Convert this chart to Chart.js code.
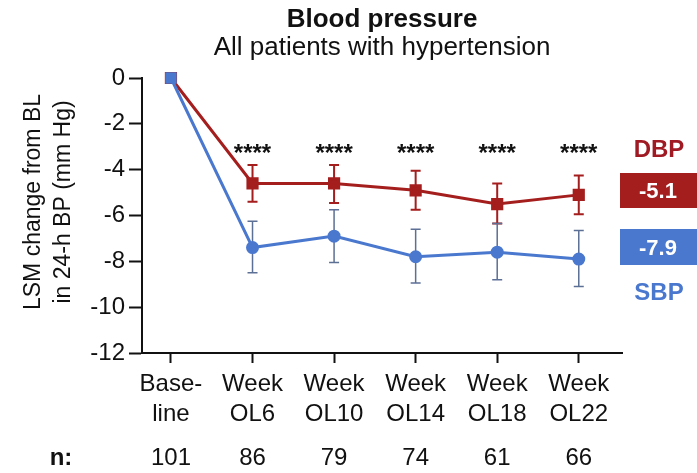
<!DOCTYPE html>
<html>
<head>
<meta charset="utf-8">
<script src="https://cdn.jsdelivr.net/npm/chart.js@4/dist/chart.umd.min.js"></script>
<style>
  html, body { margin: 0; padding: 0; background: #fff; }
  #wrap { width: 697px; height: 473px; }
</style>
</head>
<body>
<div id="wrap"><canvas id="bp" width="697" height="473"></canvas></div>
<script>
const xLabels = [['Base-', 'line'], ['Week', 'OL6'], ['Week', 'OL10'], ['Week', 'OL14'], ['Week', 'OL18'], ['Week', 'OL22']];
const nCounts = [101, 86, 79, 74, 61, 66];
const yTicks = [0, -2, -4, -6, -8, -10, -12];

const dbpMean  = [0, -4.6, -4.6, -4.9, -5.5, -5.1];
const dbpUpper = [0, -3.8, -3.8, -4.05, -4.6, -4.25];
const dbpLower = [0, -5.4, -5.45, -5.75, -6.35, -5.95];

const sbpMean  = [0, -7.4, -6.9, -7.8, -7.6, -7.9];
const sbpUpper = [0, -6.25, -5.75, -6.6, -6.35, -6.65];
const sbpLower = [0, -8.5, -8.05, -8.95, -8.8, -9.1];

const sigLabels = ['', '****', '****', '****', '****', '****'];

const RED = '#A51E1E';
const BLUE = '#4A78CE';
const FONT = '"Liberation Sans", Arial, sans-serif';

const toPoints = arr => arr.map((v, i) => ({ x: i, y: v }));

const extras = {
  id: 'extras',
  beforeDatasetsDraw(chart) {
    const { ctx, scales: { x, y } } = chart;
    const bars = [
      { up: dbpUpper, low: dbpLower, color: RED, w: 2 },
      { up: sbpUpper, low: sbpLower, color: '#5C6F95', w: 1.5 },
    ];
    ctx.save();
    bars.forEach(b => {
      ctx.strokeStyle = b.color;
      ctx.lineWidth = b.w;
      b.up.forEach((u, i) => {
        if (u === b.low[i]) return;
        const px = x.getPixelForValue(i);
        const y1 = y.getPixelForValue(u), y2 = y.getPixelForValue(b.low[i]);
        ctx.beginPath();
        ctx.moveTo(px, y1); ctx.lineTo(px, y2);
        ctx.moveTo(px - 5, y1); ctx.lineTo(px + 5, y1);
        ctx.moveTo(px - 5, y2); ctx.lineTo(px + 5, y2);
        ctx.stroke();
      });
    });
    ctx.restore();
  },
  afterDraw(chart) {
    const { ctx, chartArea: ca, scales: { x, y } } = chart;
    const cx = (ca.left + ca.right) / 2;
    ctx.save();
    ctx.fillStyle = '#111';
    ctx.textAlign = 'center';
    ctx.textBaseline = 'alphabetic';
    ctx.font = `bold 26px ${FONT}`;
    ctx.fillText('Blood pressure', cx, 27);
    ctx.font = `26px ${FONT}`;
    ctx.fillText('All patients with hypertension', cx, 55);

    // y axis title
    ctx.save();
    ctx.translate(0, 202);
    ctx.rotate(-Math.PI / 2);
    ctx.font = `23px ${FONT}`;
    ctx.fillText('LSM change from BL', 0, 40);
    ctx.fillText('in 24-h BP (mm Hg)', 0, 70);
    ctx.restore();

    // significance stars
    ctx.font = `bold 24px ${FONT}`;
    sigLabels.forEach((s, i) => {
      if (s) ctx.fillText(s, x.getPixelForValue(i), 161);
    });

    // n row
    ctx.font = `24px ${FONT}`;
    nCounts.forEach((n, i) => ctx.fillText(String(n), x.getPixelForValue(i), 465));
    ctx.font = `bold 24px ${FONT}`;
    ctx.fillText('n:', 61, 465);

    // right-hand annotations
    const last = dbpMean.length - 1;
    ctx.font = `bold 24px ${FONT}`;
    ctx.fillStyle = '#A01A24';
    ctx.fillText('DBP', 659, 157);
    ctx.fillStyle = RED;
    ctx.fillRect(620, 173, 80, 35);
    ctx.fillStyle = BLUE;
    ctx.fillText('SBP', 659, 300);
    ctx.fillRect(620, 229, 80, 36);
    ctx.fillStyle = '#fff';
    ctx.font = `bold 22px ${FONT}`;
    ctx.fillText(dbpMean[last].toFixed(1), 658, 198);
    ctx.fillText(sbpMean[last].toFixed(1), 658, 255);
    ctx.restore();
  }
};

new Chart(document.getElementById('bp'), {
  type: 'line',
  data: {
    datasets: [
      {
        label: 'DBP', data: toPoints(dbpMean), borderColor: RED, backgroundColor: RED,
        borderWidth: 3, pointStyle: 'rect', pointRadius: 6.5, clip: false, order: 1,
      },
      {
        label: 'SBP', data: toPoints(sbpMean), borderColor: BLUE, backgroundColor: BLUE,
        borderWidth: 3, pointStyle: ['rect', 'circle', 'circle', 'circle', 'circle', 'circle'],
        pointRadius: [6, 5, 5, 5, 5, 5], clip: false, order: 0,
      },
    ],
  },
  options: {
    responsive: false, animation: false,
    layout: { padding: { top: 78, right: 75, left: 0, bottom: 0 } },
    plugins: { legend: { display: false }, tooltip: { enabled: false } },
    scales: {
      x: {
        type: 'linear', min: -0.355, max: 5.53,
        afterBuildTicks: s => { s.ticks = xLabels.map((_, i) => ({ value: i })); },
        afterFit: s => { s.height = 120; },
        grid: { drawOnChartArea: false, tickLength: 10, tickColor: '#111', tickWidth: 2 },
        border: { color: '#111', width: 2 },
        ticks: {
          color: '#111', padding: 6, maxRotation: 0, autoSkip: false,
          font: { family: FONT, size: 24, lineHeight: 1.25 },
          callback: v => xLabels[v],
        },
      },
      y: {
        min: -12, max: 0,
        afterBuildTicks: s => { s.ticks = yTicks.map(v => ({ value: v })); },
        afterFit: s => { s.width = 142; },
        grid: { drawOnChartArea: false, tickLength: 13, tickColor: '#111', tickWidth: 2 },
        border: { color: '#111', width: 2 },
        ticks: { color: '#111', padding: 4, font: { family: FONT, size: 24 } },
      },
    },
  },
  plugins: [extras],
});
</script>
</body>
</html>
